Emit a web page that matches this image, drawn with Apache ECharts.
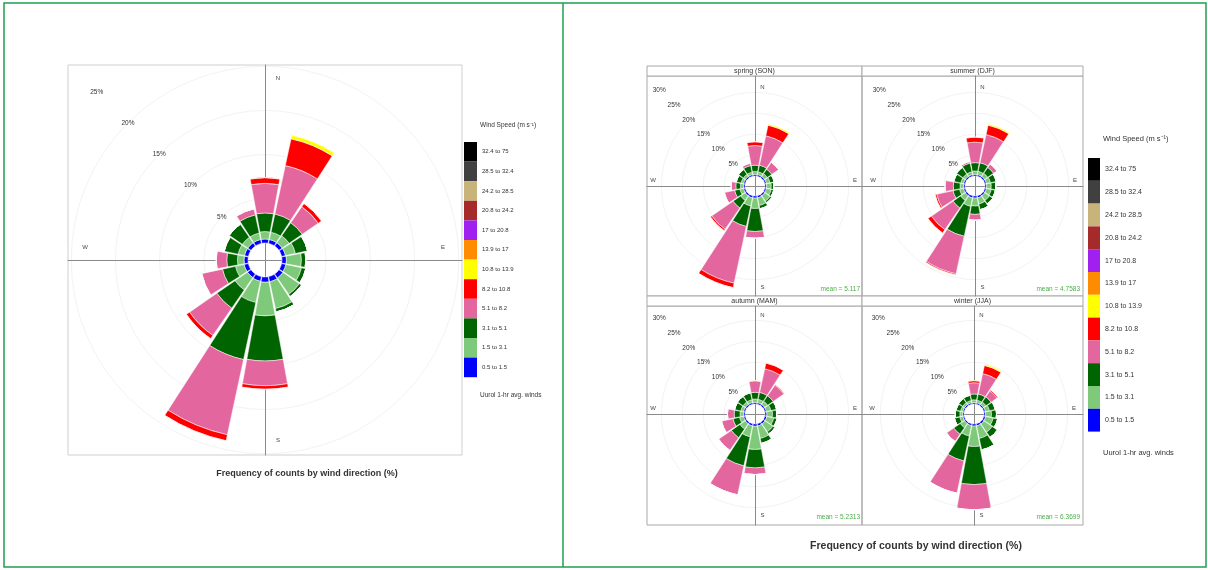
<!DOCTYPE html>
<html>
<head>
<meta charset="utf-8">
<script src="https://cdn.jsdelivr.net/npm/echarts@6/dist/echarts.min.js"></script>
<style>
  html, body { margin: 0; padding: 0; background: #fff; }
  #chart { width: 1208px; height: 570px; }
</style>
</head>
<body>
<div id="chart"></div>
<script>
// Wind direction sectors (22.5 degrees each), clockwise from north
const directions = ['N','NNE','NE','ENE','E','ESE','SE','SSE','S','SSW','SW','WSW','W','WNW','NW','NNW'];

// Wind speed classes (m/s), lowest first
const speedBins = ['0.5 to 1.5','1.5 to 3.1','3.1 to 5.1','5.1 to 8.2','8.2 to 10.8','10.8 to 13.9',
                   '13.9 to 17','17 to 20.8','20.8 to 24.2','24.2 to 28.5','28.5 to 32.4','32.4 to 75'];
const binColors = ['#0000ff','#7fc97a','#006400','#e4669e','#ff0000','#ffff00',
                   '#ff8c00','#a020f0','#a52a2a','#c8b47a','#404040','#000000'];

// Frequency (%) of hourly winds per sector; one row per speed class (0.5-1.5 ... 10.8-13.9)
const annualFreq = [
  [0.45,0.45,0.45,0.45,0.5,0.5,0.55,0.6,0.6,0.55,0.5,0.5,0.45,0.45,0.45,0.45],
  [0.85,0.85,0.95,1.15,1.7,1.8,2.25,3.1,3.8,2.45,1.7,1.0,0.75,0.75,0.75,0.75],
  [2.1,2.1,1.8,1.4,0.5,0.5,0.3,0.4,5.1,6.6,2.5,1.5,1.2,1.6,1.8,2.1],
  [3.35,5.6,2.2,0,0,0,0,0,2.8,8.7,3.75,2.4,1.2,0,0,0.7],
  [0.65,3.1,0.45,0,0,0,0,0,0.4,0.7,0.45,0,0,0,0,0],
  [0,0.4,0,0,0,0,0,0,0,0,0,0,0,0,0,0]
];
const springFreq = [
  [0.4,0.4,0.4,0.4,0.4,0.4,0.45,0.5,0.5,0.5,0.45,0.4,0.4,0.4,0.4,0.4],
  [0.7,0.7,0.8,0.9,1.1,1.2,1.55,1.9,2.5,2.0,1.35,0.9,0.7,0.6,0.6,0.6],
  [1.5,1.6,1.3,1.0,0.6,0.6,0.5,0.8,5.5,5.0,2.2,1.3,1.1,1.2,1.4,1.6],
  [4.7,7.2,2.0,0,0,0,0,0,1.6,13.9,6.2,2.5,1.1,0,0,0.6],
  [0.9,2.6,0,0,0,0,0,0,0,1.1,0.4,0,0,0,0,0],
  [0,0.3,0,0,0,0,0,0,0,0,0,0,0,0,0,0]
];
const summerFreq = [
  [0.4,0.4,0.4,0.4,0.4,0.4,0.45,0.5,0.5,0.5,0.45,0.4,0.4,0.4,0.4,0.4],
  [0.8,0.8,0.9,1.0,1.1,1.2,1.35,1.5,1.9,2.1,1.35,1.0,0.8,0.7,0.7,0.7],
  [2.0,2.1,1.7,1.4,1.1,1.0,1.0,1.4,2.0,7.3,2.2,1.6,1.6,1.7,1.9,2.1],
  [4.9,6.9,1.0,0,0,0,0,0,1.4,9.2,6.3,4.0,2.0,0,0,0.4],
  [1.2,2.3,0,0,0,0,0,0,0,0.3,1.0,0.4,0,0,0,0],
  [0,0.3,0,0,0,0,0,0,0,0,0,0,0,0,0,0]
];
const autumnFreq = [
  [0.4,0.4,0.4,0.4,0.45,0.5,0.5,0.55,0.55,0.5,0.45,0.4,0.4,0.4,0.4,0.4],
  [0.8,0.8,0.9,1.1,1.35,1.7,2.3,3.05,5.55,2.7,1.55,1.0,0.8,0.7,0.7,0.7],
  [1.6,1.7,1.6,1.4,1.0,0.8,0.6,1.2,4.4,7.1,2.5,1.6,1.4,1.5,1.6,1.7],
  [2.8,5.8,3.1,0,0,0,0,0,1.6,7.1,3.7,2.8,1.6,0,0,0],
  [0,1.4,0.2,0,0,0,0,0,0,0,0,0,0,0,0,0],
  [0,0,0,0,0,0,0,0,0,0,0,0,0,0,0,0]
];
const winterFreq = [
  [0.35,0.35,0.35,0.4,0.4,0.45,0.5,0.5,0.5,0.45,0.4,0.35,0.35,0.35,0.35,0.35],
  [0.65,0.65,0.75,1.0,1.4,1.85,2.4,3.1,4.9,2.55,1.2,0.75,0.65,0.55,0.55,0.55],
  [1.4,1.5,1.5,1.4,1.2,1.1,1.5,2.8,9.1,6.1,1.9,1.3,1.1,1.1,1.2,1.3],
  [2.7,5.0,1.7,0,0,0,0,0,6.0,7.9,2.1,0,0,0,0,0],
  [0.5,2.0,0.3,0,0,0,0,0,0,0,0,0,0,0,0,0],
  [0,0.3,0,0,0,0,0,0,0,0,0,0,0,0,0,0]
];

const seasonTitles = ['spring (SON)','summer (DJF)','autumn (MAM)','winter (JJA)'];
const seasonMeans = ['mean = 5.117','mean = 4.7583','mean = 5.2313','mean = 6.3699'];
const annualTicks = [0,5,10,15,20,25];
const seasonTicks = [0,5,10,15,20,25,30];

// ---- layout ----
const FONT = 'Liberation Sans, Arial, sans-serif';
// each panel: box (x0,y0,x1,y1), rose centre, hole radius, px per percent
const panels = [
  { box:[68,65,462,455],  c:[265,260], hole:17, ppp:8.84, ticks:annualTicks, freq:annualFreq, fs:6.5 },
  { box:[647,76,862,296], c:[755,186], hole:10, ppp:4.18, ticks:seasonTicks, freq:springFreq, fs:6.5 },
  { box:[862,76,1083,296],c:[975,186], hole:10, ppp:4.18, ticks:seasonTicks, freq:summerFreq, fs:6.5 },
  { box:[647,306,862,525],c:[755,414], hole:10, ppp:4.18, ticks:seasonTicks, freq:autumnFreq, fs:6.5 },
  { box:[862,306,1083,525],c:[974,414], hole:10, ppp:4.18, ticks:seasonTicks, freq:winterFreq, fs:6.5 }
];

const polar = [], angleAxis = [], radiusAxis = [], grid = [], xAxis = [], yAxis = [], series = [];
const np = panels.length;

panels.forEach((p, i) => {
  const maxV = p.ticks[p.ticks.length - 1];
  const outer = p.hole + maxV * p.ppp;
  // rose
  polar.push({ center: p.c, radius: [p.hole, outer] });
  angleAxis.push({ polarIndex: i, type: 'category', data: directions, startAngle: 90 + 11.25, clockwise: true,
    axisLine: { show: false }, axisTick: { show: false }, axisLabel: { show: false }, splitLine: { show: false } });
  const gridColors = p.ticks.map(t => (t > 0 && t <= 20) ? '#f3f3f3' : 'rgba(0,0,0,0)');
  radiusAxis.push({ polarIndex: i, type: 'value', min: 0, max: maxV, interval: 5,
    axisLine: { show: false }, axisTick: { show: false }, axisLabel: { show: false },
    splitLine: { show: true, lineStyle: { color: gridColors, width: 1 } } });
  // crosshair + panel frame
  const [x0, y0, x1, y1] = p.box;
  grid.push({ left: x0, top: y0, width: x1 - x0, height: y1 - y0, show: true,
    borderColor: i === 0 ? '#cfcfcf' : '#a8a8a8', borderWidth: 1, containLabel: false });
  const axStyle = { show: true, onZero: true, lineStyle: { color: '#8a8a8a', width: 1 } };
  xAxis.push({ gridIndex: i, type: 'value', min: x0 - p.c[0], max: x1 - p.c[0], axisLine: axStyle,
    axisTick: { show: false }, axisLabel: { show: false }, splitLine: { show: false } });
  yAxis.push({ gridIndex: i, type: 'value', min: p.c[1] - y1, max: p.c[1] - y0, axisLine: axStyle,
    axisTick: { show: false }, axisLabel: { show: false }, splitLine: { show: false } });
  // stacked speed classes
  p.freq.forEach((row, b) => {
    series.push({ type: 'bar', coordinateSystem: 'polar', polarIndex: i, stack: 'rose' + i,
      name: speedBins[b], data: row, barCategoryGap: '8%', silent: true,
      itemStyle: { color: binColors[b], borderColor: '#ffffff', borderWidth: 0.5 } });
  });
});

// radial percentage labels along the north-west diagonal
panels.forEach((p, i) => {
  const maxV = p.ticks[p.ticks.length - 1];
  polar.push({ center: p.c, radius: [p.hole, p.hole + maxV * p.ppp] });
  angleAxis.push({ polarIndex: np + i, type: 'value', min: 0, max: 360, startAngle: 135, show: false });
  radiusAxis.push({ polarIndex: np + i, type: 'value', min: 0, max: maxV, interval: 5,
    axisLine: { show: false }, axisTick: { show: false }, splitLine: { show: false },
    axisLabel: { showMinLabel: false, formatter: '{value}%', fontSize: p.fs, color: '#333',
      fontFamily: FONT, margin: 0, align: 'center', verticalAlign: 'middle' } });
});

// higher speed classes (no occurrences) so that the key lists all classes
for (let b = 6; b < speedBins.length; b++) {
  series.push({ type: 'bar', coordinateSystem: 'polar', polarIndex: 0, stack: 'rose0',
    name: speedBins[b], data: [], itemStyle: { color: binColors[b] } });
}

const legendNames = speedBins.slice().reverse();
const legendBase = { orient: 'vertical', icon: 'rect', itemGap: 0, padding: 0, selectedMode: false,
  data: legendNames, itemStyle: { borderWidth: 0 } };

// ---- annotations ----
const graphic = [];
function txt(x, y, text, size, opts) {
  graphic.push({ type: 'text', silent: true, z: 10, style: Object.assign({
    x, y, text, fill: '#333', font: size + 'px ' + FONT, textAlign: 'left', textVerticalAlign: 'middle'
  }, opts || {}) });
}
// outer frame of the two figures
graphic.push({ type: 'rect', silent: true, shape: { x: 4, y: 3, width: 1202, height: 564 },
  style: { fill: 'none', stroke: '#1ea14f', lineWidth: 1.5 } });
graphic.push({ type: 'line', silent: true, shape: { x1: 563, y1: 3, x2: 563, y2: 567 },
  style: { stroke: '#1ea14f', lineWidth: 1.5 } });

// season strips
[[647,66,215],[862,66,221],[647,296,215],[862,296,221]].forEach((s, k) => {
  graphic.push({ type: 'rect', silent: true, shape: { x: s[0], y: s[1], width: s[2], height: 10 },
    style: { fill: '#ffffff', stroke: '#a8a8a8', lineWidth: 1 } });
  txt(s[0] + s[2] / 2, s[1] + 5.5, seasonTitles[k], 7, { textAlign: 'center' });
});

// compass points (offsets from rose centre)
const compassBig = [[13,-182,'N'],[13,180,'S'],[-180,-13,'W'],[178,-13,'E']];
const compassSmall = [[7.5,-99,'N'],[7.5,101,'S'],[-102,-6,'W'],[100,-6,'E']];
panels.forEach((p, i) => {
  (i === 0 ? compassBig : compassSmall).forEach(c => {
    txt(p.c[0] + c[0], p.c[1] + c[1], c[2], 6, { textAlign: 'center', fill: '#444' });
  });
});

// seasonal means
[[860,289],[1080,289],[860,517],[1080,517]].forEach((m, k) => {
  txt(m[0], m[1], seasonMeans[k], 6.5, { textAlign: 'right', fill: '#4daf4a' });
});

// key titles and notes
txt(480, 125, 'Wind Speed (m s\u207B\u00B9)', 6.5);
txt(480, 395, 'Uurol 1-hr avg. winds', 6.5);
txt(1103, 139, 'Wind Speed (m s\u207B\u00B9)', 7.5);
txt(1103, 453, 'Uurol 1-hr avg. winds', 7.5);

// axis captions
txt(307, 474, 'Frequency of counts by wind direction (%)', 9, { textAlign: 'center', font: 'bold 9px ' + FONT });
txt(916, 546, 'Frequency of counts by wind direction (%)', 10.5, { textAlign: 'center', font: 'bold 10.5px ' + FONT });

const option = {
  animation: false,
  backgroundColor: '#ffffff',
  textStyle: { fontFamily: FONT },
  polar, angleAxis, radiusAxis, grid, xAxis, yAxis, series, graphic,
  legend: [
    Object.assign({}, legendBase, { left: 464, top: 142, itemWidth: 13, itemHeight: 19.6,
      textStyle: { fontSize: 6, color: '#333', fontFamily: FONT } }),
    Object.assign({}, legendBase, { left: 1088, top: 158, itemWidth: 12, itemHeight: 22.8,
      textStyle: { fontSize: 7, color: '#333', fontFamily: FONT } })
  ]
};

const chart = echarts.init(document.getElementById('chart'), null, { renderer: 'canvas' });
chart.setOption(option);
</script>
</body>
</html>
